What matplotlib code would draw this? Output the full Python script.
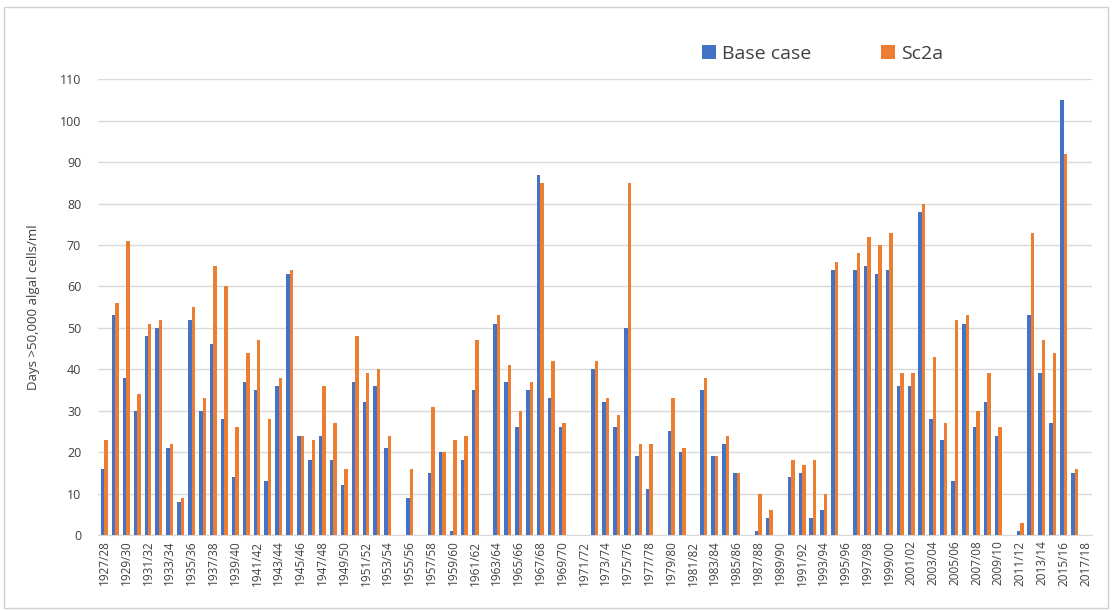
import numpy as np
import matplotlib
matplotlib.use("Agg")
import matplotlib.pyplot as plt
from matplotlib.patches import Rectangle

# Water years 1927/28 .. 2017/18
years = [f"{y}/{str(y + 1)[-2:]}" for y in range(1927, 2018)]

base_case = [16, 53, 38, 30, 48, 50, 21, 8, 52, 30,
             46, 28, 14, 37, 35, 13, 36, 63, 24, 18,
             24, 18, 12, 37, 32, 36, 21, 0, 9, 0,
             15, 20, 1, 18, 35, 0, 51, 37, 26, 35,
             87, 33, 26, 0, 0, 40, 32, 26, 50, 19,
             11, 0, 25, 20, 0, 35, 19, 22, 15, 0,
             1, 4, 0, 14, 15, 4, 6, 64, 0, 64,
             65, 63, 64, 36, 36, 78, 28, 23, 13, 51,
             26, 32, 24, 0, 1, 53, 39, 27, 105, 15,
             0]

sc2a = [23, 56, 71, 34, 51, 52, 22, 9, 55, 33,
        65, 60, 26, 44, 47, 28, 38, 64, 24, 23,
        36, 27, 16, 48, 39, 40, 24, 0, 16, 0,
        31, 20, 23, 24, 47, 0, 53, 41, 30, 37,
        85, 42, 27, 0, 0, 42, 33, 29, 85, 22,
        22, 0, 33, 21, 0, 38, 19, 24, 15, 0,
        10, 6, 0, 18, 17, 18, 10, 66, 0, 68,
        72, 70, 73, 39, 39, 80, 43, 27, 52, 53,
        30, 39, 26, 0, 3, 73, 47, 44, 92, 16,
        0]

yticks = list(range(0, 111, 10))

plt.rcParams['font.family'] = ['Open Sans', 'DejaVu Sans']

fig = plt.figure(figsize=(11.12, 6.10), dpi=100)
ax = fig.add_axes([0.088, 0.123, 0.894, 0.747])

x = np.arange(len(years))
w = 0.32
ax.bar(x - w / 2, base_case, width=w, color='#4472C4', label='Base case', zorder=3)
ax.bar(x + w / 2, sc2a, width=w, color='#ED7D31', label='Sc2a', zorder=3)

ax.set_xlim(-0.6, len(years) - 0.4)
ax.set_ylim(0, 110)
ax.set_yticks(yticks)
ax.yaxis.grid(True, color='#d9d9d9', linewidth=1.0, zorder=0)
ax.set_axisbelow(True)

ax.set_xticks(x[::2])
ax.set_xticklabels(years[::2], rotation=90, fontsize=8.5, color='#404040')
ax.tick_params(axis='y', labelsize=9, colors='#404040', length=0, pad=12)
ax.tick_params(axis='x', length=0, pad=4)

for side in ['top', 'right', 'left']:
    ax.spines[side].set_visible(False)
ax.spines['bottom'].set_color('#d9d9d9')

ax.set_ylabel('Days >50,000 algal cells/ml', fontsize=9.5, color='#404040', labelpad=14)

leg = fig.legend(loc='upper left', bbox_to_anchor=(0.616, 0.955), ncol=2, frameon=False,
                 fontsize=14, handlelength=0.7, handleheight=0.7, handletextpad=0.3,
                 columnspacing=3.6, labelcolor='#404040')

# thin frame round the whole chart
fig.patches.append(Rectangle((0.004, 0.003), 0.992, 0.985, transform=fig.transFigure,
                             fill=False, edgecolor='#d0d0d0', linewidth=1.0))

fig.savefig('out.png', dpi=100)
